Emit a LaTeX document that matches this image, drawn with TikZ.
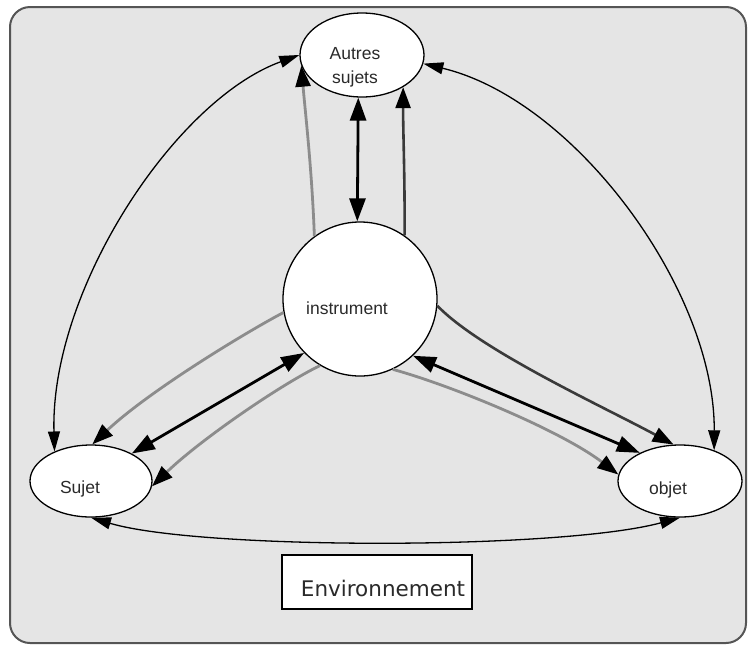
\documentclass[tikz,border=0pt]{standalone}
\usepackage{fontspec}
\setmainfont{Liberation Sans}
\newfontfamily\envfont{DejaVu Sans}
\usetikzlibrary{shapes.geometric,arrows.meta}
\definecolor{bgfill}{HTML}{E5E5E5}
\definecolor{bgline}{HTML}{555555}
\definecolor{txt}{HTML}{2A2A2A}
\definecolor{grayln}{HTML}{8C8C8C}
\definecolor{darkln}{HTML}{3A3A3A}
\begin{document}
\begin{tikzpicture}[x=1pt,y=-1pt,
  ell/.style={ellipse,draw,fill=white,line width=1.3pt,inner sep=0pt},
  nodetext/.style={text=txt,font=\fontsize{17.5}{24}\selectfont,align=center},
  tipA/.style={-{Triangle[length=21pt,width=15pt,color=black]}},
  tipB/.style={{Triangle[length=20pt,width=12pt,color=black]}-{Triangle[length=20pt,width=12pt,color=black]}},
  tipC/.style={{Triangle[length=23pt,width=16pt,color=black]}-{Triangle[length=23pt,width=16pt,color=black]}},
  thinboth/.style={tipB,line width=1.3pt,black},
  thickboth/.style={tipC,line width=2.8pt,black},
  grayarrow/.style={tipA,line width=2.8pt,grayln},
  darkarrow/.style={tipA,line width=2.6pt,darkln},
]
\useasboundingbox (0,0) rectangle (749,646);
\draw[bgline,line width=2pt,fill=bgfill,rounded corners=20pt] (10,7) rectangle (746,643);

\node[ell,minimum width=124pt,minimum height=84pt,
  label={[nodetext,xshift=-7pt,yshift=-12pt]center:{Autres\\sujets}}] (autres) at (362,55) {};
\node[circle,draw,fill=white,line width=1.3pt,minimum size=154pt,inner sep=0pt,
  label={[nodetext,xshift=-13pt,yshift=-9pt]center:instrument}] (instrument) at (360,299) {};
\node[ell,minimum width=122pt,minimum height=72pt,
  label={[nodetext,xshift=-11pt,yshift=-8pt]center:Sujet}] (sujet) at (91,481) {};
\node[ell,minimum width=124pt,minimum height=72pt,
  label={[nodetext,xshift=-12pt,yshift=-9pt]center:objet}] (objet) at (680,481) {};
\node[draw,fill=white,line width=1.6pt,minimum width=190pt,minimum height=54pt,inner sep=0pt,
  label={[text=txt,font=\envfont\fontsize{21.5}{26}\selectfont,xshift=6pt,yshift=-6pt]center:Environnement}] (env) at (377,582) {};

% thin curves
\draw[thinboth] (autres.180) .. controls (175,100) and (50,290) .. (sujet.141);
\draw[thinboth] (autres.352) .. controls (575,100) and (715,290) .. (objet.42);
\draw[thinboth] (sujet.south) .. controls (200,550) and (560,550) .. (objet.south);

% thick double arrows
\draw[thickboth] (autres.265) -- (instrument.92);
\draw[thickboth] (instrument.224) -- (sujet.34);
\draw[thickboth] (instrument.313) -- (objet.145);

% gray / dark single arrows
\draw[grayarrow] (instrument.126) .. controls (312,170) and (305,110) .. (autres.190);
\draw[darkarrow] (instrument.55) .. controls (405,180) and (403,130) .. (autres.322);
\draw[grayarrow] (instrument.190) .. controls (250,330) and (150,390) .. (sujet.88);
\draw[grayarrow] (instrument.239) .. controls (280,385) and (200,440) .. (sujet.355);
\draw[darkarrow] (instrument.355) .. controls (480,350) and (600,405) .. (objet.100);
\draw[grayarrow] (instrument.295) .. controls (450,385) and (560,430) .. (objet.174);
\end{tikzpicture}
\end{document}
